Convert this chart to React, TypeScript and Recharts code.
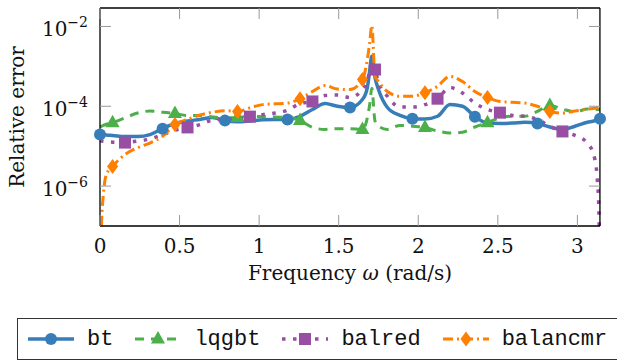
import React from "react";
import { LineChart, Line, XAxis, YAxis, ReferenceLine } from "recharts";

// frequency grid (rad/s) – pi/40 steps plus a few extra samples around the resonance and the ends
const omega = [
  0, 0.01, 0.02, 0.04, 0.079, 0.157, 0.236, 0.314, 0.393, 0.471, 0.55, 0.628, 0.707, 0.785, 0.864, 0.942,
  1.021, 1.1, 1.178, 1.257, 1.335, 1.414, 1.492, 1.571, 1.649, 1.68, 1.695, 1.708, 1.728, 1.75, 1.806, 1.885,
  1.963, 2.042, 2.121, 2.199, 2.278, 2.356, 2.435, 2.513, 2.592, 2.67, 2.749, 2.827, 2.906, 2.985, 3.063,
  3.11, 3.125, 3.135, 3.142,
];

const btErr = [
  1.95e-5, 1.95e-5, 1.95e-5, 1.91e-5, 1.86e-5, 1.74e-5, 1.74e-5, 1.95e-5, 2.75e-5, 3.72e-5, 4.27e-5, 4.68e-5,
  5.25e-5, 4.37e-5, 4.07e-5, 4.27e-5, 4.57e-5, 4.68e-5, 4.68e-5, 5.62e-5, 8.32e-5, 1.17e-4, 1.0e-4, 9.33e-5,
  1.48e-4, 2.95e-4, 7.94e-4, 1.78e-3, 5.25e-4, 2.63e-4, 9.33e-5, 5.89e-5, 4.9e-5, 4.79e-5, 5.62e-5, 1.1e-4,
  1.0e-4, 5.5e-5, 3.8e-5, 3.72e-5, 3.8e-5, 3.98e-5, 3.72e-5, 3.02e-5, 2.63e-5, 3.16e-5, 3.98e-5, 4.37e-5,
  4.68e-5, 4.79e-5, 4.9e-5,
];

const lqgbtErr = [
  3.09e-5, 3.16e-5, 3.31e-5, 3.55e-5, 3.89e-5, 5.13e-5, 6.76e-5, 7.59e-5, 7.08e-5, 6.61e-5, 5.89e-5, 5.89e-5,
  5.37e-5, 5.13e-5, 5.25e-5, 5.62e-5, 5.5e-5, 5.37e-5, 5.25e-5, 4.37e-5, 2.95e-5, 2.63e-5, 2.75e-5, 2.75e-5,
  2.63e-5, 5.13e-5, 1.12e-4, 2.82e-4, 4.27e-5, 3.16e-5, 2.63e-5, 3.31e-5, 3.16e-5, 2.95e-5, 2.4e-5, 2.14e-5,
  2.24e-5, 3.02e-5, 3.89e-5, 5.13e-5, 5.62e-5, 5.62e-5, 7.41e-5, 1.05e-4, 8.51e-5, 7.24e-5, 8.51e-5, 8.32e-5,
  8.32e-5, 8.32e-5, 8.32e-5,
];

const balredErr = [
  1.35e-5, 1.35e-5, 1.32e-5, 1.29e-5, 1.26e-5, 1.23e-5, 1.35e-5, 1.51e-5, 1.95e-5, 2.51e-5, 2.95e-5, 3.47e-5,
  4.47e-5, 4.68e-5, 4.79e-5, 5.5e-5, 6.17e-5, 6.76e-5, 7.94e-5, 1.17e-4, 1.32e-4, 1.86e-4, 1.91e-4, 1.66e-4,
  2.63e-4, 4.27e-4, 7.94e-4, 1.41e-3, 8.32e-4, 3.98e-4, 1.78e-4, 9.55e-5, 9.55e-5, 1.1e-4, 1.55e-4, 2.95e-4,
  2.14e-4, 1.2e-4, 8.32e-5, 6.92e-5, 5.89e-5, 5.62e-5, 4.68e-5, 3.16e-5, 2.34e-5, 1.86e-5, 1.2e-5, 4.68e-6,
  1.48e-6, 2.51e-7, 1e-9,
];

const balancmrErr = [
  1e-9, 1.26e-7, 5.5e-7, 1.95e-6, 3.09e-6, 6.17e-6, 9.12e-6, 1.2e-5, 1.78e-5, 3.47e-5, 4.68e-5, 6.03e-5,
  7.08e-5, 7.76e-5, 7.41e-5, 9.12e-5, 1.1e-4, 1.15e-4, 1.2e-4, 1.55e-4, 2.34e-4, 3.31e-4, 2.69e-4, 2.63e-4,
  4.68e-4, 1.48e-3, 3.98e-3, 1.05e-2, 5.62e-4, 4.17e-4, 2.34e-4, 1.78e-4, 1.78e-4, 2.19e-4, 3.16e-4, 5.62e-4,
  4.17e-4, 2.34e-4, 1.66e-4, 1.32e-4, 1.26e-4, 1.2e-4, 1.0e-4, 7.41e-5, 6.76e-5, 7.59e-5, 8.51e-5, 8.91e-5,
  9.12e-5, 9.33e-5, 9.33e-5,
];

const xTicks = [0, 0.5, 1, 1.5, 2, 2.5, 3];
const yTicks = [1e-6, 1e-4, 1e-2];
const yDomain = [1e-7, 2.9e-2];

const data = omega.map((w, i) => ({
  w,
  bt: btErr[i],
  lqgbt: lqgbtErr[i],
  balred: balredErr[i],
  balancmr: balancmrErr[i],
}));

const PLOT_LEFT = 100;
const PLOT_RIGHT = 600;
const PLOT_TOP = 8;
const PLOT_BOTTOM = 226;
const STEP = Math.PI / 40;
const SERIF = "'DejaVu Serif', serif";
const MONO = "'Liberation Mono', monospace";

type Shape = "circle" | "triangle" | "square" | "diamond";

const series: { key: string; color: string; dash?: string; width: number; shape: Shape; phase: number }[] = [
  { key: "bt", color: "#377eb8", width: 3.5, shape: "circle", phase: 0 },
  { key: "lqgbt", color: "#4daf4a", dash: "9 7", width: 3, shape: "triangle", phase: 1 },
  { key: "balred", color: "#984ea3", dash: "3.5 7.5", width: 3.5, shape: "square", phase: 2 },
  { key: "balancmr", color: "#ff7f00", dash: "10 4 2 4", width: 3, shape: "diamond", phase: 1 },
];

function Marker({ shape, cx, cy, color }: { shape: Shape; cx: number; cy: number; color: string }) {
  if (shape === "circle") return <circle cx={cx} cy={cy} r={6} fill={color} />;
  if (shape === "triangle")
    return <polygon points={`${cx},${cy - 8} ${cx - 7},${cy + 4.5} ${cx + 7},${cy + 4.5}`} fill={color} />;
  if (shape === "square") return <rect x={cx - 6} y={cy - 6} width={12} height={12} fill={color} />;
  return <polygon points={`${cx},${cy - 7.5} ${cx + 5.5},${cy} ${cx},${cy + 7.5} ${cx - 5.5},${cy}`} fill={color} />;
}

// marks every 5th grid sample, shifted by the series phase
const makeDot = (s: (typeof series)[number]) => (props: any) => {
  const { cx, cy, index } = props;
  const k = omega[index] / STEP;
  const r = Math.round(k);
  const on = Math.abs(k - r) < 0.02 && (r - s.phase) % 5 === 0;
  if (!on || cx == null || cy == null) return <g key={`${s.key}-${index}`} />;
  return (
    <g key={`${s.key}-${index}`}>
      <Marker shape={s.shape} cx={cx} cy={cy} color={s.color} />
    </g>
  );
};

const XTick = (props: any) => {
  const { x, payload } = props;
  return (
    <g>
      <line x1={x} x2={x} y1={PLOT_BOTTOM} y2={PLOT_BOTTOM - 11} stroke="#999" />
      <line x1={x} x2={x} y1={PLOT_TOP} y2={PLOT_TOP + 11} stroke="#999" />
      <text x={x} y={PLOT_BOTTOM + 27} textAnchor="middle" fontFamily={SERIF} fontSize={20} fill="#111">
        {payload.value}
      </text>
    </g>
  );
};

const YTick = (props: any) => {
  const { y, payload } = props;
  const exp = Math.round(Math.log10(payload.value));
  return (
    <g>
      <line x1={PLOT_LEFT} x2={PLOT_LEFT + 11} y1={y} y2={y} stroke="#999" />
      <line x1={PLOT_RIGHT} x2={PLOT_RIGHT - 11} y1={y} y2={y} stroke="#999" />
      <text x={PLOT_LEFT - 12} y={y + 10} textAnchor="end" fontFamily={SERIF} fontSize={20} fill="#111">
        10
        <tspan dy={-9} fontSize={14}>
          {"\u2212" + Math.abs(exp)}
        </tspan>
      </text>
    </g>
  );
};

function LegendBox() {
  return (
    <div
      style={{
        position: "absolute",
        left: 17,
        top: 318,
        width: 610,
        height: 42,
        boxSizing: "border-box",
        border: "1.3px solid #333",
        display: "flex",
        alignItems: "center",
        paddingLeft: 10,
        fontFamily: MONO,
        fontSize: 22,
        color: "#111",
        background: "#fff",
      }}
    >
      {series.map((s) => (
        <div key={s.key} style={{ display: "flex", alignItems: "center" }}>
          <svg width={46} height={20}>
            <line x1={0} x2={46} y1={10} y2={10} stroke={s.color} strokeWidth={s.width} strokeDasharray={s.dash} />
            <Marker shape={s.shape} cx={23} cy={10} color={s.color} />
          </svg>
          <span style={{ marginLeft: 13, marginRight: 22 }}>{s.key}</span>
        </div>
      ))}
    </div>
  );
}

export default function App() {
  return (
    <div style={{ position: "fixed", left: 0, top: 0, width: 617, height: 361, background: "#fff", overflow: "hidden" }}>
      <LineChart width={617} height={300} data={data} margin={{ top: PLOT_TOP, right: 17, bottom: 0, left: 0 }}>
        <XAxis
          dataKey="w"
          type="number"
          domain={[0, Math.PI]}
          ticks={xTicks}
          interval={0}
          tick={(p: any) => <XTick {...p} />}
          tickLine={false}
          axisLine={{ stroke: "#000", strokeWidth: 1.3 }}
          height={74}
        />
        <YAxis
          scale="log"
          type="number"
          domain={yDomain}
          ticks={yTicks}
          interval={0}
          allowDataOverflow
          tick={(p: any) => <YTick {...p} />}
          tickLine={false}
          axisLine={{ stroke: "#000", strokeWidth: 1.3 }}
          width={100}
        />
        {series.map((s) => (
          <Line
            key={s.key}
            dataKey={s.key}
            type="monotone"
            stroke={s.color}
            strokeWidth={s.width}
            strokeDasharray={s.dash}
            dot={makeDot(s)}
            activeDot={false}
            isAnimationActive={false}
          />
        ))}
        <ReferenceLine y={yDomain[1]} stroke="#000" strokeWidth={1.3} ifOverflow="visible" />
        <ReferenceLine x={Math.PI} stroke="#000" strokeWidth={1.3} ifOverflow="visible" />
      </LineChart>
      <svg width={617} height={300} style={{ position: "absolute", left: 0, top: 0, pointerEvents: "none" }}>
        <text
          transform={`translate(24, ${(PLOT_TOP + PLOT_BOTTOM) / 2}) rotate(-90)`}
          textAnchor="middle"
          fontFamily={SERIF}
          fontSize={20}
          fill="#111"
        >
          Relative error
        </text>
        <text x={(PLOT_LEFT + PLOT_RIGHT) / 2} y={280} textAnchor="middle" fontFamily={SERIF} fontSize={20} fill="#111">
          Frequency <tspan fontStyle="italic">ω</tspan> (rad/s)
        </text>
      </svg>
      <LegendBox />
    </div>
  );
}
